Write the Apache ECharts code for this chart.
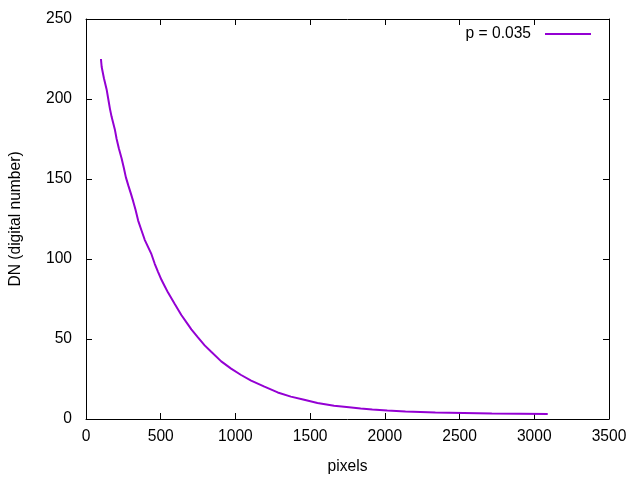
<!DOCTYPE html>
<html><head><meta charset="utf-8">
<script src="https://cdn.jsdelivr.net/npm/echarts@6/dist/echarts.min.js"></script>
<style>html,body{margin:0;padding:0;background:#fff}#c{width:640px;height:480px}</style>
</head><body><div id="c"></div>
<script>
var seriesName = 'p = 0.035';
var xPixels = [100,105,120,138,149,160,171,193,205,220,238,253,267,283,300,316,331,349,371,393,438,460,482,505,527,549,593,638,683,705,749,794,838,905,971,1038,1105,1194,1283,1371,1460,1549,1660,1760,1838,1916,2016,2138,2338,2716,3090];
var dnValues = [225,220,213,206,200,194,189,181,175,169,163,157,151,146,141,136,131,124,118,112,103,97,92,87,83,79,72,65,59,56,51,46,42,36,31.5,27.5,24,20.2,16.6,14,12,10,8.3,7.4,6.6,5.9,5.3,4.7,4.1,3.4,3.1];

var data = xPixels.map(function(x,i){return [x, dnValues[i]];});
var font = 'Liberation Sans, Arial, sans-serif';
var fs = 15.6;
var axisLine = {show:true, onZero:false, lineStyle:{color:'#000', width:1}};
var tick = {show:true, inside:true, length:6, lineStyle:{color:'#000'}};
var chart = echarts.init(document.getElementById('c'), null, {renderer:'canvas'});
chart.setOption({
  animation:false,
  grid:{left:86, right:31, top:19, bottom:61, containLabel:false},
  legend:{
    show:true, right:44, top:21, align:'right', itemWidth:46, itemHeight:2, itemGap:0,
    textStyle:{fontFamily:font, fontSize:fs, color:'#000', padding:[0,9,0,0]},
    data:[{name:seriesName, icon:'rect'}]
  },
  xAxis:[{
    type:'value', min:0, max:3500, interval:500,
    name:'pixels', nameLocation:'middle', nameGap:40,
    nameTextStyle:{fontFamily:font, fontSize:fs, color:'#000'},
    axisLine:axisLine, axisTick:tick, splitLine:{show:false},
    axisLabel:{fontFamily:font, fontSize:fs, color:'#000', margin:10, formatter:function(v){return String(v);}}
  },{
    type:'value', min:0, max:3500, interval:500, position:'top',
    axisLine:axisLine, axisTick:tick, splitLine:{show:false}, axisLabel:{show:false}
  }],
  yAxis:[{
    type:'value', min:0, max:250, interval:50,
    name:'DN (digital number)', nameLocation:'middle', nameGap:62,
    nameTextStyle:{fontFamily:font, fontSize:fs, color:'#000'},
    axisLine:axisLine, axisTick:tick, splitLine:{show:false},
    axisLabel:{fontFamily:font, fontSize:fs, color:'#000', margin:14, formatter:function(v){return String(v);}}
  },{
    type:'value', min:0, max:250, interval:50, position:'right',
    axisLine:axisLine, axisTick:tick, splitLine:{show:false}, axisLabel:{show:false}
  }],
  series:[{
    name:seriesName, type:'line', data:data, showSymbol:false, symbol:'none',
    lineStyle:{color:'#9400d3', width:2}, itemStyle:{color:'#9400d3'}
  }]
});
</script></body></html>
